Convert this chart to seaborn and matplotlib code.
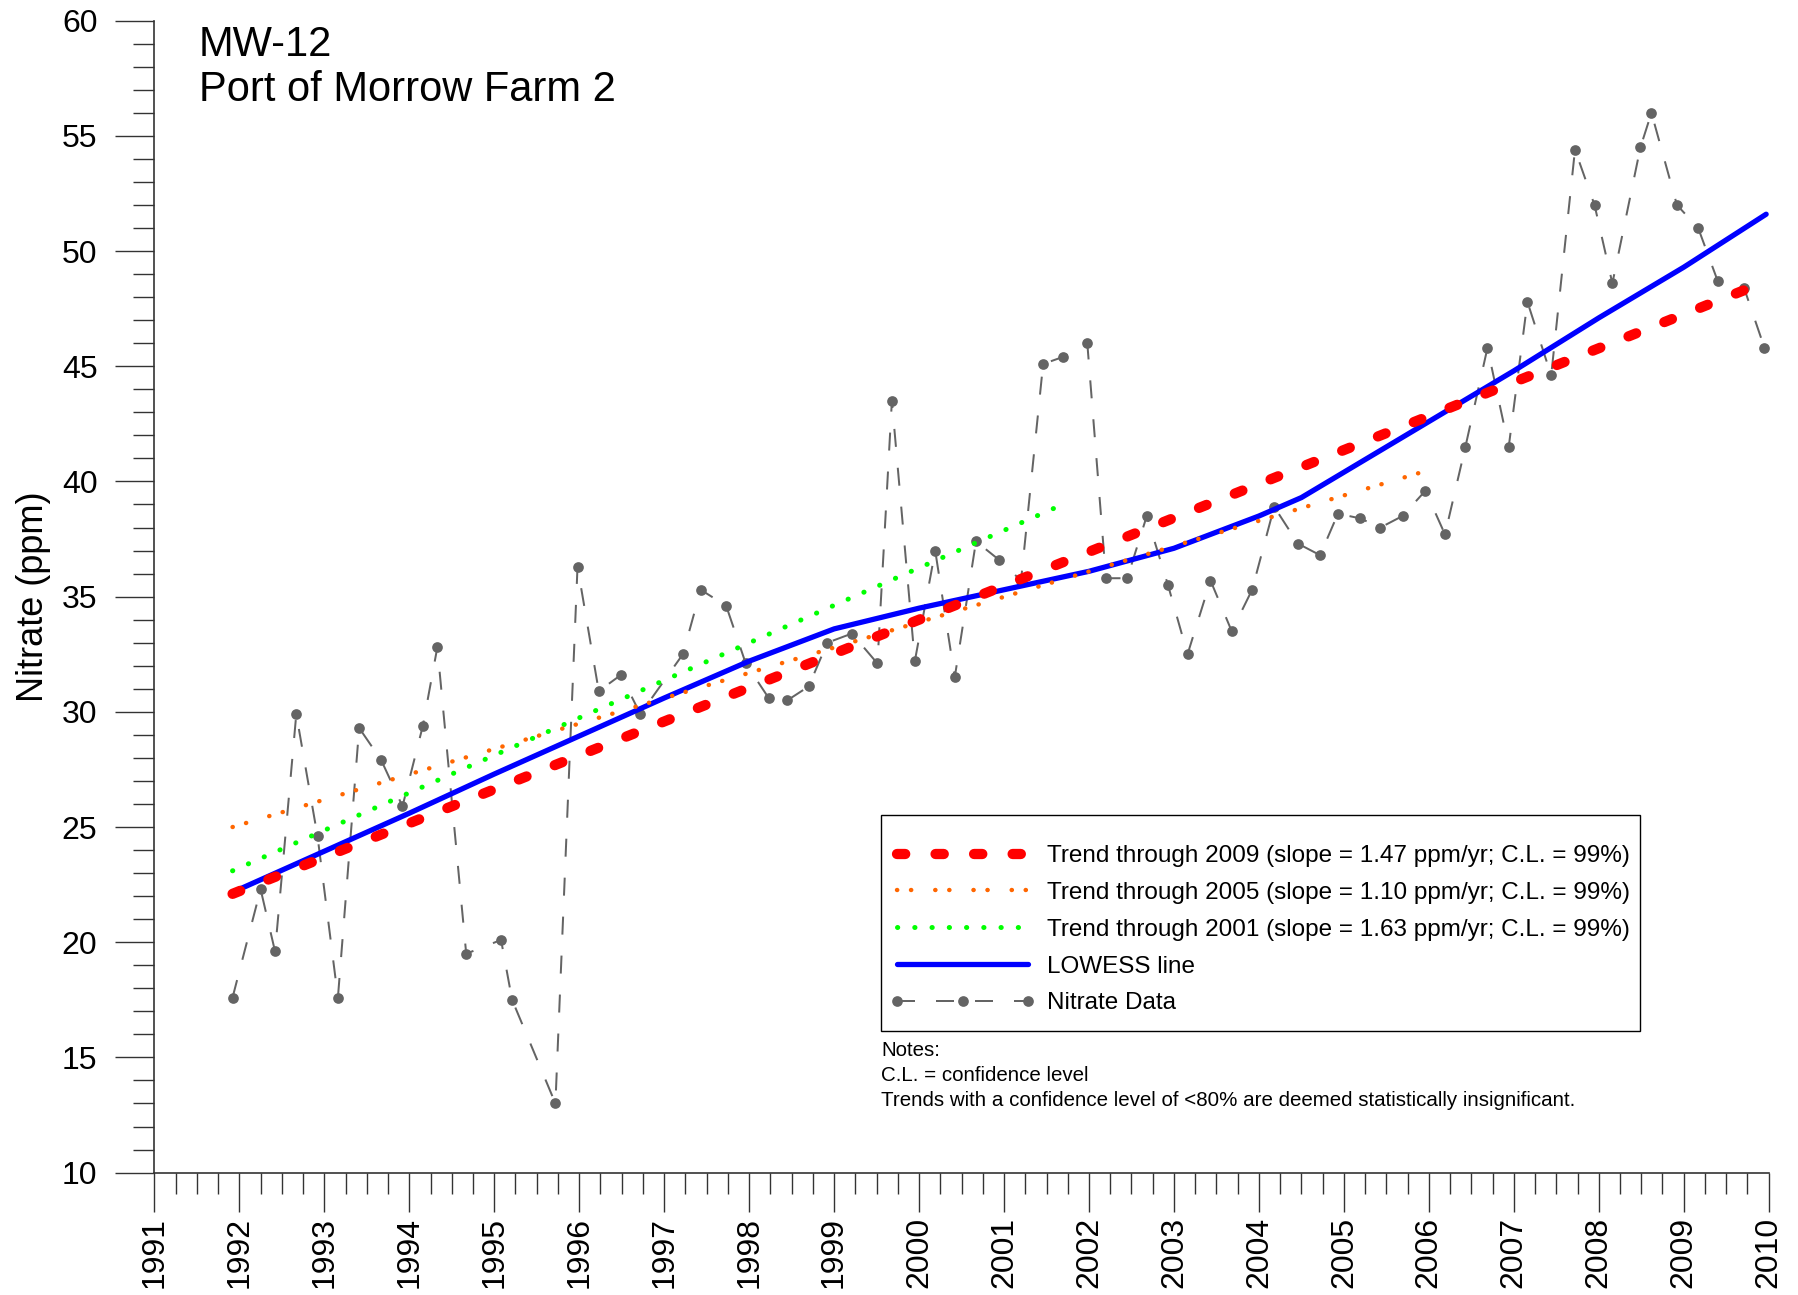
import matplotlib
matplotlib.use("Agg")
import matplotlib.pyplot as plt
from matplotlib.patches import Rectangle
from matplotlib.ticker import MultipleLocator
import numpy as np
import pandas as pd
import seaborn as sns

# Nitrate samples, MW-12 (decimal year, ppm)
sample_year = [
    1991.92, 1992.25, 1992.42, 1992.67, 1992.92, 1993.16, 1993.41, 1993.67,
    1993.92, 1994.16, 1994.33, 1994.67, 1995.08, 1995.21, 1995.72, 1995.98,
    1996.23, 1996.49, 1996.72, 1997.22, 1997.43, 1997.73, 1997.96, 1998.23,
    1998.45, 1998.70, 1998.92, 1999.21, 1999.51, 1999.68, 1999.95, 2000.19,
    2000.42, 2000.67, 2000.94, 2001.20, 2001.46, 2001.69, 2001.98, 2002.20,
    2002.45, 2002.68, 2002.93, 2003.16, 2003.43, 2003.68, 2003.92, 2004.18,
    2004.46, 2004.72, 2004.93, 2005.19, 2005.43, 2005.69, 2005.96, 2006.19,
    2006.43, 2006.69, 2006.94, 2007.16, 2007.44, 2007.72, 2007.95, 2008.16,
    2008.49, 2008.62, 2008.92, 2009.17, 2009.40, 2009.71, 2009.95,
]
nitrate_ppm = [
    17.6, 22.3, 19.6, 29.9, 24.6, 17.6, 29.3, 27.9,
    25.9, 29.4, 32.8, 19.5, 20.1, 17.5, 13.0, 36.3,
    30.9, 31.6, 29.9, 32.5, 35.3, 34.6, 32.1, 30.6,
    30.5, 31.1, 33.0, 33.4, 32.1, 43.5, 32.2, 37.0,
    31.5, 37.4, 36.6, 35.7, 45.1, 45.4, 46.0, 35.8,
    35.8, 38.5, 35.5, 32.5, 35.7, 33.5, 35.3, 38.9,
    37.3, 36.8, 38.6, 38.4, 38.0, 38.5, 39.6, 37.7,
    41.5, 45.8, 41.5, 47.8, 44.6, 54.4, 52.0, 48.6,
    54.5, 56.0, 52.0, 51.0, 48.7, 48.4, 45.8,
]

# LOWESS curve
lowess_year = [1992.0, 1993.0, 1994.0, 1995.0, 1996.0, 1997.0, 1998.0, 1999.0,
               2000.0, 2001.0, 2002.0, 2003.0, 2004.0, 2004.5, 2005.0, 2006.0,
               2007.0, 2008.0, 2009.0, 2009.97]
lowess_ppm = [22.3, 23.95, 25.6, 27.3, 28.95, 30.6, 32.2, 33.6,
              34.5, 35.3, 36.1, 37.1, 38.5, 39.3, 40.4, 42.6,
              44.8, 47.1, 49.3, 51.6]

# Trend lines (end points)
trend_2009_year = [1991.92, 2009.71]
trend_2009_ppm = [22.1, 48.3]
trend_2005_year = [1991.92, 2005.96]
trend_2005_ppm = [25.0, 40.45]
trend_2001_year = [1991.92, 2001.69]
trend_2001_ppm = [23.1, 39.0]

legend_labels = [
    "Trend through 2009 (slope = 1.47 ppm/yr; C.L. = 99%)",
    "Trend through 2005 (slope = 1.10 ppm/yr; C.L. = 99%)",
    "Trend through 2001 (slope = 1.63 ppm/yr; C.L. = 99%)",
    "LOWESS line",
    "Nitrate Data",
]
notes_lines = [
    "Notes:",
    "C.L. = confidence level",
    "Trends with a confidence level of <80% are deemed statistically insignificant.",
]
year_ticks = list(range(1991, 2011))

sns.set_style("ticks")
plt.rcParams["font.family"] = ["Liberation Sans", "DejaVu Sans"]
plt.rcParams["text.color"] = "black"
plt.rcParams["axes.labelcolor"] = "black"
plt.rcParams["xtick.labelcolor"] = "black"
plt.rcParams["ytick.labelcolor"] = "black"

W, H = 1799, 1295
fig = plt.figure(figsize=(W / 100, H / 100), dpi=100)
ax = fig.add_axes([154.4 / W, 1 - 1172.6 / H, (1768.7 - 154.4) / W, (1172.6 - 20.7) / H])

gray = "#646464"
df_data = pd.DataFrame({"year": sample_year, "ppm": nitrate_ppm})
sns.lineplot(data=df_data, x="year", y="ppm", ax=ax, color=gray, linewidth=1.44,
             linestyle=(0, (9, 10.5)), marker="o", markersize=7.7,
             markeredgewidth=0, sort=False, errorbar=None, zorder=2)
h_data = ax.get_lines()[-1]

sns.lineplot(x=lowess_year, y=lowess_ppm, ax=ax, color="#0000FF", linewidth=3.8,
             solid_capstyle="round", sort=False, errorbar=None, zorder=3)
h_lowess = ax.get_lines()[-1]

sns.lineplot(x=trend_2001_year, y=trend_2001_ppm, ax=ax, color="#00FF00", linewidth=3.6,
             linestyle=(0, (0.05, 3.4)), dash_capstyle="round", sort=False,
             errorbar=None, zorder=4)
h_2001 = ax.get_lines()[-1]

sns.lineplot(x=trend_2005_year, y=trend_2005_ppm, ax=ax, color="#FF6600", linewidth=3.2,
             linestyle=(0, (0.05, 3.1, 0.05, 5.4)), dash_capstyle="round", sort=False,
             errorbar=None, zorder=5)
h_2005 = ax.get_lines()[-1]

sns.lineplot(x=trend_2009_year, y=trend_2009_ppm, ax=ax, color="#FF0000", linewidth=7.4,
             linestyle=(0, (0.8, 2.95)), dash_capstyle="round", sort=False,
             errorbar=None, zorder=6)
h_2009 = ax.get_lines()[-1]

ax.set_xlim(1991, 2010)
ax.set_ylim(10, 60)
ax.set_xticks(year_ticks)
ax.set_xticklabels([str(y) for y in year_ticks], rotation=90)
ax.xaxis.set_minor_locator(MultipleLocator(0.25))
ax.yaxis.set_major_locator(MultipleLocator(5))
ax.yaxis.set_minor_locator(MultipleLocator(1))
ax.tick_params(axis="both", which="major", direction="out", length=28, width=1.0,
               color="#333333", labelsize=23, labelcolor="black")
ax.tick_params(axis="both", which="minor", direction="out", length=15, width=1.0,
               color="#333333")
ax.tick_params(axis="y", which="major", pad=13)
ax.tick_params(axis="x", which="major", pad=4)
ax.set_xlabel("")
ax.set_ylabel("Nitrate (ppm)", fontsize=26, labelpad=8, color="black")
sns.despine(ax=ax)
for side in ["left", "bottom"]:
    ax.spines[side].set_linewidth(1.2)
    ax.spines[side].set_color("#333333")

# title in the upper left corner
fig.text(199 / W, 1 - 56 / H, "MW-12", fontsize=30, va="baseline", ha="left",
         color="black")
fig.text(199 / W, 1 - 100.7 / H, "Port of Morrow Farm 2", fontsize=30,
         va="baseline", ha="left", color="black")

# legend with a plain rectangular frame
leg = ax.legend([h_2009, h_2005, h_2001, h_lowess, h_data], legend_labels,
                loc="upper left", bbox_to_anchor=(890 / W, 1 - 845 / H),
                bbox_transform=fig.transFigure, frameon=False, fontsize=17.5,
                handlelength=5.97, handletextpad=0.5, labelspacing=0.61,
                borderpad=0, borderaxespad=0, numpoints=3)
for t in leg.get_texts():
    t.set_color("black")
fig.add_artist(Rectangle((881 / W, 1 - 1031 / H), (1640 - 881) / W, (1031 - 815) / H,
                         transform=fig.transFigure, fill=False, edgecolor="black",
                         linewidth=1.0))

for i, line in enumerate(notes_lines):
    fig.text(881 / W, 1 - (1055.7 + i * 25) / H, line, fontsize=14.8,
             va="baseline", ha="left", color="black")

fig.savefig("out.png", dpi=100)
plt.close(fig)
